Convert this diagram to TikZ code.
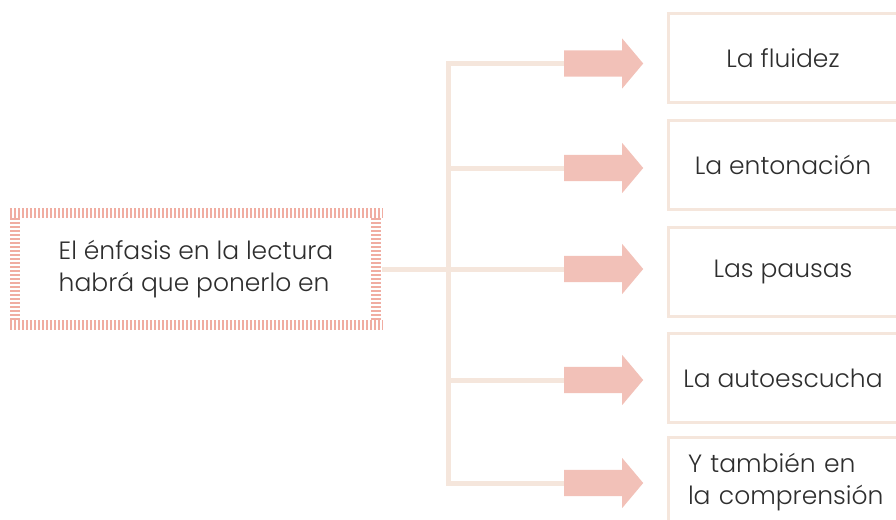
\documentclass[tikz,border=0pt]{standalone}
\usepackage{fontspec}
\setmainfont{Poppins Light}
\usetikzlibrary{shapes.arrows,positioning}
\definecolor{beige}{HTML}{F5E6DC}
\definecolor{salmon}{HTML}{F2C1B8}
\definecolor{hatch}{HTML}{F0ADA2}
\definecolor{ink}{HTML}{2E2E2E}
\tikzset{
  link/.style={beige, line width=5pt},
  ticks/.style={hatch, line width=10pt, dash pattern=on 2pt off 2pt},
  bigarrow/.style={single arrow, fill=salmon, draw=none, minimum height=79pt,
    inner sep=0pt, inner ysep=13pt, single arrow head extend=12pt,
    single arrow tip angle=100, anchor=west},
  rbox/.style={draw=beige, line width=3pt, minimum width=230pt, minimum height=89pt,
    text=ink, font=\fontsize{25}{32}\selectfont},
}
\begin{document}
\begin{tikzpicture}[x=1pt, y=-1pt]
\clip (0,0) rectangle (896,519);
\node[minimum width=372pt, minimum height=122pt, align=left, text=ink,
  font=\fontsize{25}{32}\selectfont] (main) at (196,269)
  {El énfasis en la lectura\\habrá que ponerlo en};
\draw[ticks] ([shift={(0,5)}]main.north west) -- ([shift={(0,5)}]main.north east);
\draw[ticks] ([shift={(0,-5)}]main.south west) -- ([shift={(0,-5)}]main.south east);
\draw[ticks] ([shift={(5,10)}]main.north west) -- ([shift={(5,-10)}]main.south west);
\draw[ticks] ([shift={(-6,10)}]main.north east) -- ([shift={(-6,-10)}]main.south east);
\node[bigarrow] (a1) at (564,63.5) {};
\node[bigarrow] (a2) at (564,168) {};
\node[bigarrow] (a3) at (564,269) {};
\node[bigarrow] (a4) at (564,380) {};
\node[bigarrow] (a5) at (564,483) {};
\node[rbox] (b1) at (783,58) {La fluidez};
\node[rbox] (b2) at (783,165) {La entonación};
\node[rbox] (b3) at (783,272) {Las pausas};
\node[rbox] (b4) at (783,378) {La autoescucha};
\node[rbox, align=left, text width=210pt, inner xsep=20pt] (b5) at (793,482)
  {Y también en\\la comprensión};
\coordinate (trunk) at (448,269);
\draw[link] (main.east) -- (a3.west);
\draw[link] (a1.west) -| (trunk) |- (a5.west);
\draw[link] (a2.west) -- (a2.west -| trunk);
\draw[link] (a4.west) -- (a4.west -| trunk);
\end{tikzpicture}
\end{document}
